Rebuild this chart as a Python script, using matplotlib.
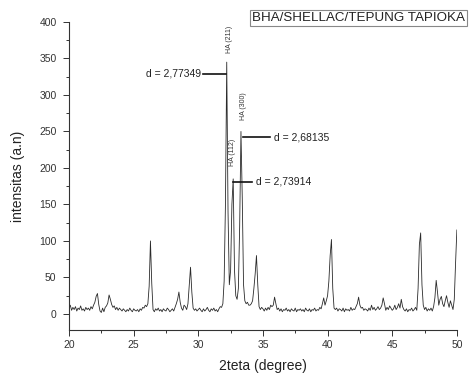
import numpy as np
import matplotlib.pyplot as plt
from matplotlib.ticker import MultipleLocator

plt.rcParams['font.family'] = ['Liberation Sans', 'DejaVu Sans']

# scan: 20.0 .. 50.0 degrees, step 0.1 (one row per degree)
scan_start, scan_step = 20.0, 0.1
intensity = [
    8, 12, 5, 9, 6, 10, 4, 8, 6, 11,          # 20
    5, 7, 4, 9, 6, 8, 5, 10, 7, 12,           # 21
    16, 24, 28, 13, 4, 2, 8, 3, 9, 11,        # 22
    15, 26, 20, 13, 9, 11, 6, 9, 5, 8,        # 23
    6, 4, 7, 5, 3, 6, 4, 8, 5, 3,             # 24
    7, 5, 4, 6, 3, 7, 5, 9, 8, 12,            # 25
    10, 14, 38, 100, 42, 6, 3, 7, 5, 8,       # 26
    4, 6, 3, 7, 5, 4, 8, 6, 3, 5,             # 27
    7, 4, 9, 14, 20, 30, 16, 8, 5, 12,        # 28
    10, 6, 14, 40, 64, 30, 8, 5, 7, 4,        # 29
    6, 8, 5, 3, 7, 4, 6, 9, 5, 3,             # 30
    7, 5, 8, 4, 6, 3, 7, 10, 9, 14,           # 31
    45, 150, 345, 140, 40, 60, 150, 185, 60, 25,  # 32
    20, 35, 120, 250, 160, 40, 18, 14, 16, 12,    # 33
    12, 14, 18, 35, 55, 80, 40, 10, 6, 9,     # 34
    7, 4, 8, 5, 9, 6, 12, 10, 12, 23,         # 35
    14, 6, 8, 4, 7, 3, 6, 5, 8, 4,            # 36
    6, 3, 7, 5, 4, 8, 3, 6, 5, 7,             # 37
    4, 6, 3, 8, 5, 4, 7, 3, 6, 5,             # 38
    8, 4, 6, 5, 9, 7, 14, 22, 12, 18,         # 39
    25, 45, 80, 102, 35, 8, 6, 8, 4, 7,       # 40
    6, 4, 8, 3, 7, 5, 6, 4, 9, 5,             # 41
    7, 6, 10, 14, 23, 12, 8, 9, 5, 7,         # 42
    6, 4, 8, 5, 12, 6, 9, 5, 7, 10,           # 43
    6, 8, 12, 22, 14, 5, 9, 6, 11, 8,         # 44
    5, 7, 12, 6, 9, 14, 8, 20, 10, 6,         # 45
    4, 7, 3, 6, 5, 8, 4, 6, 9, 5,             # 46
    35, 95, 111, 40, 12, 6, 9, 4, 7, 5,       # 47
    8, 4, 10, 22, 46, 30, 12, 20, 24, 14,     # 48
    10, 18, 25, 16, 9, 18, 12, 6, 20, 70,     # 49
    115,                                      # 50
]
two_theta = scan_start + scan_step * np.arange(len(intensity))

# peak annotations
hkl_labels = ['HA (211)', 'HA (112)', 'HA (300)']
hkl_pos = [(32.4, 376), (32.62, 222), (33.5, 285)]
d_labels = ['d = 2,77349', 'd = 2,73914', 'd = 2,68135']
d_line_x = [(30.36, 32.14), (32.68, 34.15), (33.46, 35.55)]
d_line_y = [329, 181, 242]

fig = plt.figure(figsize=(4.71, 3.79), dpi=100)
ax = fig.add_axes([0.1465, 0.1293, 0.8235, 0.8127])

ax.plot(two_theta, intensity, color='#2a2a2a', lw=0.6)

ax.set_xlim(20, 50)
ax.set_ylim(-22, 400)
ax.xaxis.set_major_locator(MultipleLocator(5))
ax.xaxis.set_minor_locator(MultipleLocator(2.5))
ax.yaxis.set_major_locator(MultipleLocator(50))
ax.yaxis.set_minor_locator(MultipleLocator(25))
ax.tick_params(which='both', direction='out', labelsize=7.5, colors='#333333', width=0.7)
ax.tick_params(which='major', length=4)
ax.tick_params(axis='y', which='major', pad=5)
ax.tick_params(which='minor', length=2.5)
for s in ['top', 'right']:
    ax.spines[s].set_visible(False)
for s in ['left', 'bottom']:
    ax.spines[s].set_linewidth(0.8)
    ax.spines[s].set_color('#333333')

ax.set_xlabel('2teta (degree)', fontsize=10, color='#222222', labelpad=6)
ax.set_ylabel('intensitas (a.n)', fontsize=10, color='#222222', labelpad=10)

for lab, (x, y) in zip(hkl_labels, hkl_pos):
    ax.text(x, y, lab, rotation=90, ha='center', va='center', fontsize=5,
            color='#333333')

for i, (lab, (x0, x1), y) in enumerate(zip(d_labels, d_line_x, d_line_y)):
    ax.plot([x0, x1], [y, y], color='#111111', lw=1.2)
    if i == 0:
        ax.text(x0 - 0.12, y, lab, ha='right', va='center', fontsize=7.5,
                color='#222222')
    else:
        ax.text(x1 + 0.3, y, lab, ha='left', va='center', fontsize=7.5,
                color='#222222')

fig.text(0.535, 0.9525, 'BHA/SHELLAC/TEPUNG TAPIOKA', fontsize=9.6, color='#222222',
         ha='left', va='center',
         bbox=dict(boxstyle='square,pad=0.15', fc='white', ec='#888888', lw=0.8))

fig.savefig('out.png', dpi=100)
